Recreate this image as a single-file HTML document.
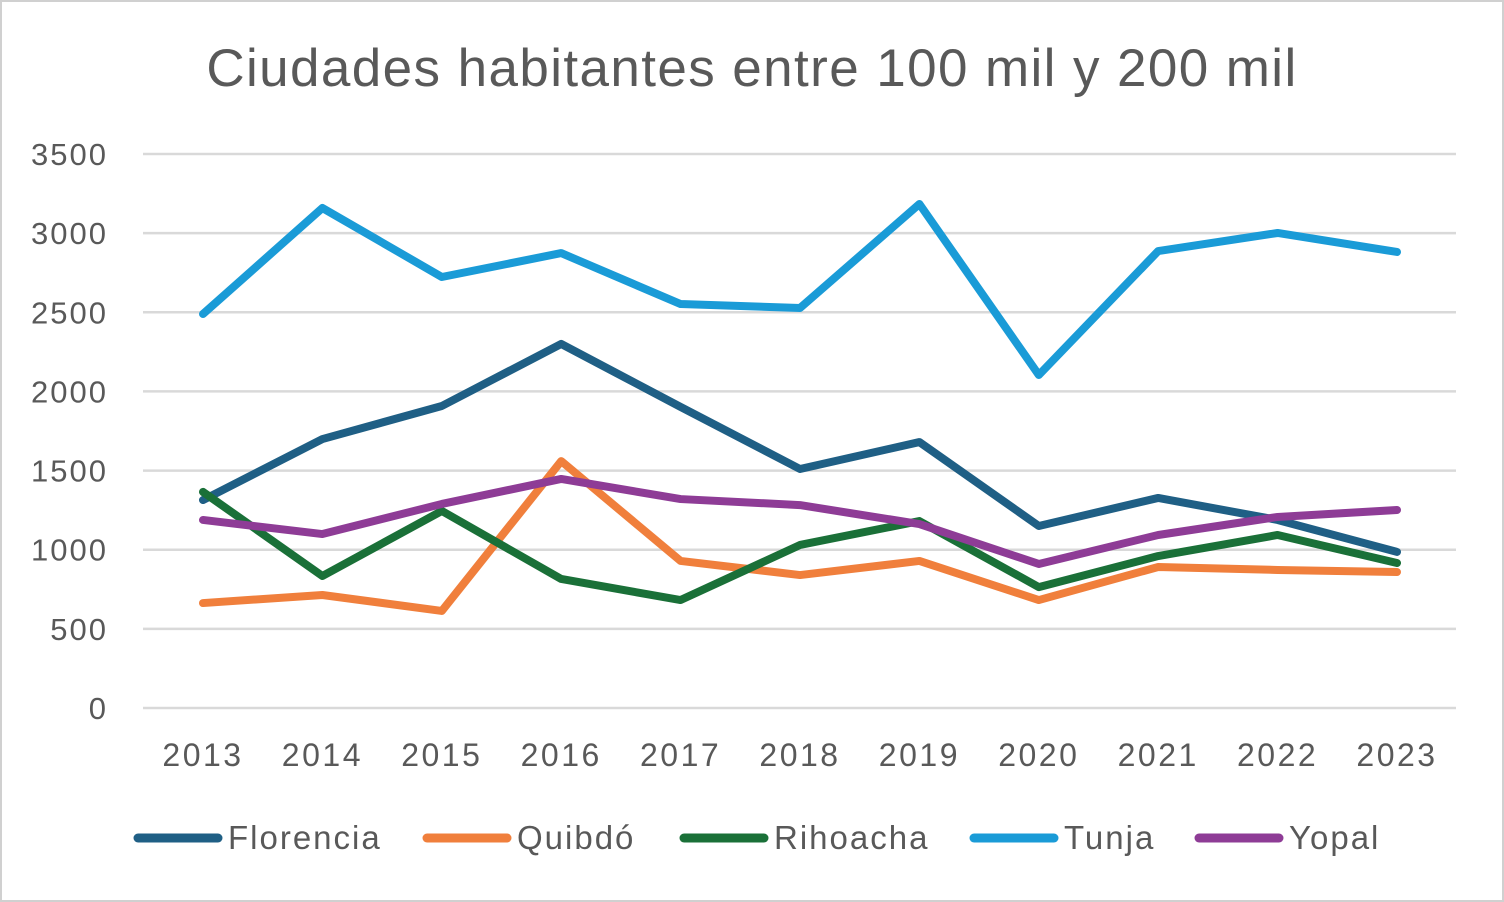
<!DOCTYPE html>
<html><head><meta charset="utf-8">
<style>
html,body{margin:0;padding:0;background:#fff;}
svg{display:block;font-family:"Liberation Sans",sans-serif;}
</style></head>
<body>
<svg id="chart" width="1504" height="902" viewBox="0 0 1504 902">
<rect x="1" y="1" width="1502" height="900" fill="#fff" stroke="#d0d0d0" stroke-width="2"/>
<text x="752" y="86" text-anchor="middle" font-size="53" letter-spacing="1.4" fill="#595959">Ciudades habitantes entre 100 mil y 200 mil</text>
<g id="grid"></g><g id="yticks"></g><g id="xticks"></g><g id="series"></g><g id="legend"></g>
</svg>
<script>
const years=["2013","2014","2015","2016","2017","2018","2019","2020","2021","2022","2023"];
const yTicks=[0,500,1000,1500,2000,2500,3000,3500];
const florencia=[1314,1699,1908,2300,1902,1510,1680,1150,1327,1188,986];
const quibdo=[663,714,613,1560,929,840,929,682,891,872,859];
const rihoacha=[1365,834,1245,815,682,1030,1181,764,960,1093,916];
const tunja=[2489,3159,2723,2874,2552,2527,3184,2104,2887,3001,2881];
const yopal=[1188,1099,1289,1447,1320,1282,1162,910,1093,1207,1251];
const seriesNames=["Florencia","Quibdó","Rihoacha","Tunja","Yopal"];
const ns="http://www.w3.org/2000/svg";
const X=i=>203+i*(1397-203)/(years.length-1);
const Y=v=>708-v*(708-154)/3500;
function mk(t,a,p){const e=document.createElementNS(ns,t);for(const k in a)e.setAttribute(k,a[k]);p.appendChild(e);return e;}
const grid=document.getElementById('grid'),yt=document.getElementById('yticks'),xt=document.getElementById('xticks');
yTicks.forEach(v=>{
 const l=mk('line',{x1:143,x2:1456,y1:Y(v),y2:Y(v),stroke:'#d9d9d9','stroke-width':2.5},grid);
 
 
 const t=mk('text',{x:108,y:Y(v)+11,'text-anchor':'end','font-size':31,'letter-spacing':2,fill:'#595959'},yt);
 t.textContent=v;
 
 
});
years.forEach((y,i)=>{
 const t=mk('text',{x:X(i),y:766,'text-anchor':'middle','font-size':32,'letter-spacing':2.5,fill:'#595959'},xt);
 t.textContent=y;
 
 
});
const data=[florencia,quibdo,rihoacha,tunja,yopal];
const colors=["#1f5f85","#f07f3c","#1a7038","#1a9bd7","#8e3c96"];
const sg=document.getElementById('series');
data.forEach((d,s)=>{
 const p=mk('polyline',{points:d.map((v,i)=>X(i)+','+Y(v)).join(' '),fill:'none',stroke:colors[s],'stroke-width':8,'stroke-linejoin':'round','stroke-linecap':'round'},sg);
 
 
});
const lg=document.getElementById('legend');
const lx=[138,427,684,974,1199];
seriesNames.forEach((n,s)=>{
 const g=mk('g',{},lg);
 
 
 mk('line',{x1:lx[s],x2:lx[s]+80,y1:838,y2:838,stroke:colors[s],'stroke-width':9,'stroke-linecap':'round'},g);
 const t=mk('text',{x:lx[s]+90,y:849,'font-size':33,'letter-spacing':2,fill:'#595959'},g);
 t.textContent=n;
});
</script>
</body></html>
